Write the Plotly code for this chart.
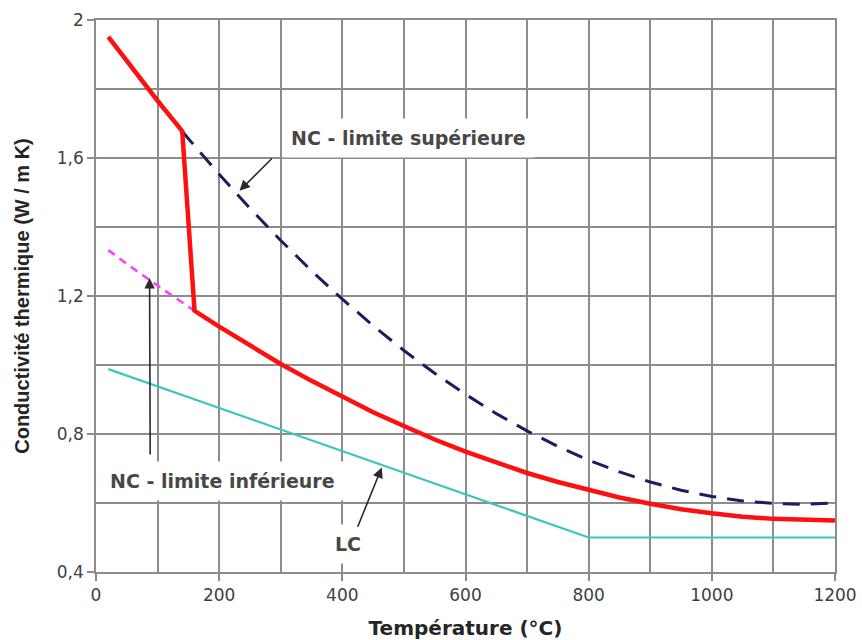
import plotly.graph_objects as go

# Thermal conductivity of concrete vs temperature (W / m K)
temp_upper = [140, 150, 200, 250, 300, 350, 400, 450, 500, 550, 600, 650, 700,
              750, 800, 850, 900, 950, 1000, 1050, 1100, 1150, 1200]
nc_upper = [1.678, 1.656, 1.553, 1.454, 1.361, 1.273, 1.191, 1.114, 1.042, 0.976,
            0.915, 0.859, 0.809, 0.764, 0.724, 0.690, 0.661, 0.637, 0.619, 0.606,
            0.599, 0.596, 0.600]

temp_lower = [20, 50, 100, 150, 160]
nc_lower = [1.333, 1.293, 1.230, 1.169, 1.157]

temp_red = [20, 50, 100, 140, 160, 200, 250, 300, 350, 400, 450, 500, 550, 600,
            650, 700, 750, 800, 850, 900, 950, 1000, 1050, 1100, 1150, 1200]
nc_red = [1.951, 1.880, 1.766, 1.678, 1.157, 1.111, 1.056, 1.003, 0.954, 0.907,
          0.863, 0.823, 0.784, 0.749, 0.717, 0.687, 0.661, 0.637, 0.616, 0.598,
          0.582, 0.570, 0.560, 0.554, 0.550, 0.549]

temp_lc = [20, 800, 1200]
lc = [0.988, 0.500, 0.500]

y_ticks = [0.4, 0.8, 1.2, 1.6, 2.0]
y_tick_text = ["0,4", "0,8", "1,2", "1,6", "2"]
x_ticks = [0, 200, 400, 600, 800, 1000, 1200]
x_tick_text = ["0", "200", "400", "600", "800", "1000", "1200"]

GRID = "#8c8c8c"
TICK_FONT = dict(family="DejaVu Sans", size=17, color="#404040")
LABEL_FONT = dict(family="DejaVu Sans", size=19, color="#474747", weight="bold")

fig = go.Figure()
fig.add_trace(go.Scatter(x=temp_lc, y=lc, mode="lines",
                         line=dict(color="#3cc6c0", width=2.2)))
fig.add_trace(go.Scatter(x=temp_lower, y=nc_lower, mode="lines",
                         line=dict(color="#ff40ff", width=2.6, dash="8px,6px")))
fig.add_trace(go.Scatter(x=temp_upper, y=nc_upper, mode="lines",
                         line=dict(color="#1c1c5e", width=3, dash="17px,11px")))
fig.add_trace(go.Scatter(x=temp_red, y=nc_red, mode="lines",
                         line=dict(color="#ff1010", width=4.5)))

# Curve labels (white boxes hide the grid behind the text)
labels = [
    ("NC - limite supérieure", 507, 1.658),
    ("NC - limite inférieure", 206, 0.663),
    ("LC", 409, 0.480),
]
for text, lx, ly in labels:
    fig.add_annotation(x=lx, y=ly, text=text, showarrow=False, font=LABEL_FONT,
                       bgcolor="white", borderpad=8)

# Pointer arrows: (head x, head y, tail x, tail y)
arrows = [
    (233, 1.505, 288, 1.603),
    (87, 1.252, 88, 0.736),
    (464, 0.703, 424, 0.527),
]
for hx, hy, tx, ty in arrows:
    fig.add_annotation(x=hx, y=hy, ax=tx, ay=ty, axref="x", ayref="y", text="",
                       showarrow=True, arrowhead=2, arrowsize=1.3, arrowwidth=1.6,
                       arrowcolor="#2a2a2a")

fig.update_layout(
    width=862, height=640,
    margin=dict(l=96, r=27, t=20, b=68),
    paper_bgcolor="white", plot_bgcolor="white",
    showlegend=False,
    xaxis=dict(
        range=[0, 1200], tickvals=x_ticks, ticktext=x_tick_text, automargin=False,
        showgrid=True, gridcolor=GRID, gridwidth=1.5,
        minor=dict(dtick=100, tick0=0, showgrid=True, gridcolor=GRID, gridwidth=1.5),
        showline=True, linecolor=GRID, linewidth=1.5, mirror=True,
        ticks="outside", ticklen=7, tickcolor=GRID, tickwidth=1.5,
        tickfont=TICK_FONT, zeroline=False,
        title=dict(text="Température (°C)", standoff=20,
                   font=dict(family="DejaVu Sans", size=20, color="#252525", weight="bold")),
    ),
    yaxis=dict(
        range=[0.4, 2.0], tickvals=y_ticks, ticktext=y_tick_text, automargin=False,
        showgrid=True, gridcolor=GRID, gridwidth=1.5,
        minor=dict(dtick=0.2, tick0=0.4, showgrid=True, gridcolor=GRID, gridwidth=1.5),
        showline=True, linecolor=GRID, linewidth=1.5, mirror=True,
        ticks="outside", ticklen=7, tickcolor=GRID, tickwidth=1.5,
        tickfont=TICK_FONT, zeroline=False,
        title=dict(text="Conductivité thermique (W / m K)", standoff=22,
                   font=dict(family="Liberation Sans", size=20, color="#252525", weight="bold")),
    ),
)

fig.write_html("out.html")
